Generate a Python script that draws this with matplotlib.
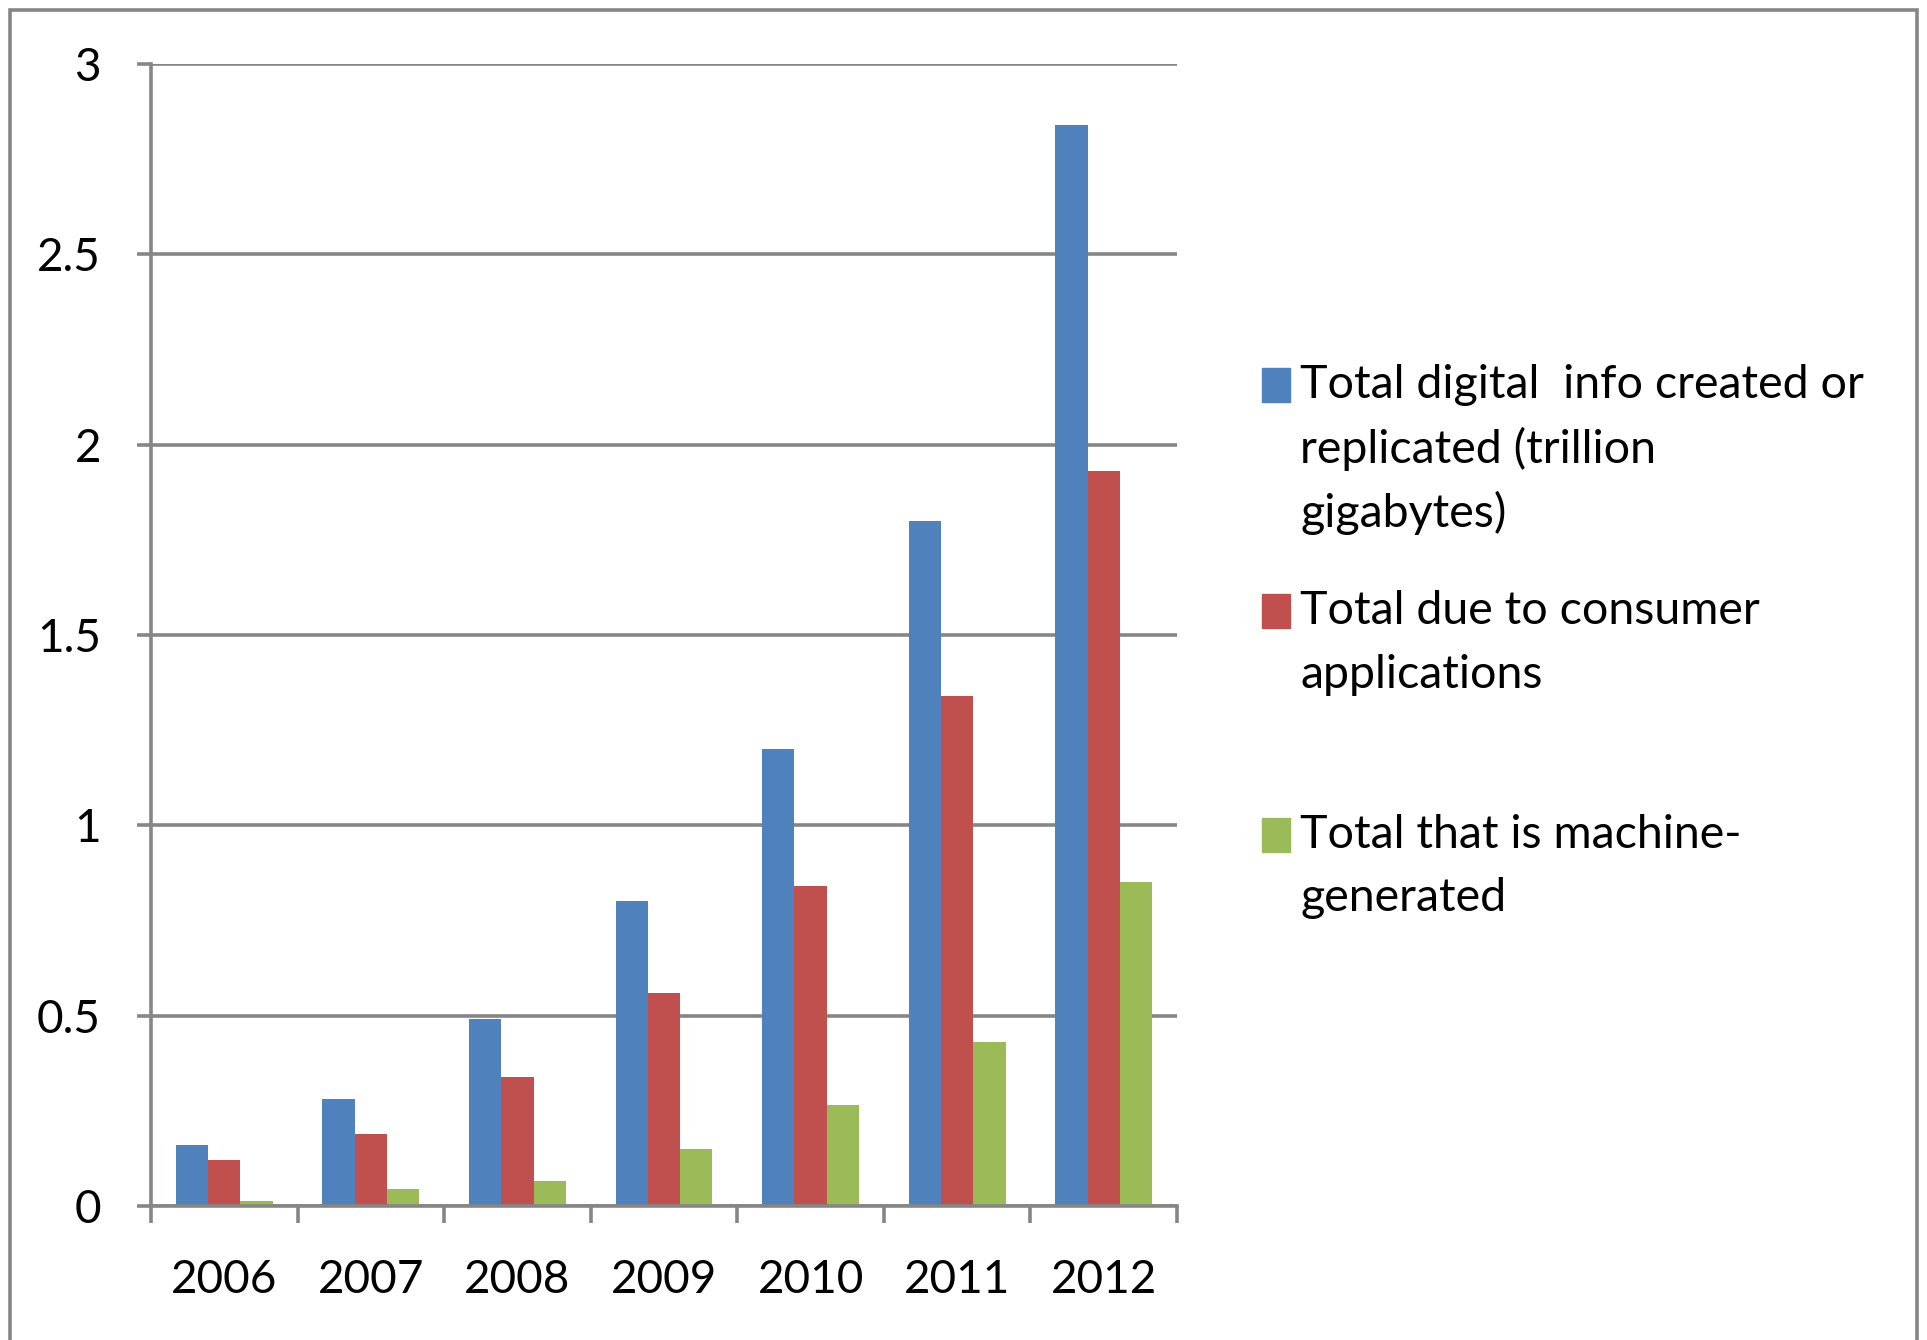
import matplotlib
matplotlib.use("Agg")
import matplotlib.pyplot as plt
import numpy as np
from matplotlib.patches import Rectangle

years = ["2006", "2007", "2008", "2009", "2010", "2011", "2012"]
total_digital = [0.16, 0.28, 0.49, 0.80, 1.20, 1.80, 2.84]
consumer = [0.12, 0.19, 0.34, 0.56, 0.84, 1.34, 1.93]
machine = [0.013, 0.045, 0.065, 0.15, 0.265, 0.43, 0.85]
series_labels = [
    ["Total digital  info created or", "replicated (trillion", "gigabytes)"],
    ["Total due to consumer", "applications"],
    ["Total that is machine-", "generated"],
]
colors = ["#4F81BD", "#C0504D", "#9BBB59"]
yticks = [0, 0.5, 1, 1.5, 2, 2.5, 3]
ytick_labels = ["0", "0.5", "1", "1.5", "2", "2.5", "3"]

plt.rcParams['font.family'] = ['Lato', 'DejaVu Sans']
W, H = 1927, 1340
fig = plt.figure(figsize=(W / 100, H / 100), dpi=100)
ax = fig.add_axes([151 / W, 1 - 1206 / H, (1177 - 151) / W, (1206 - 64) / H])

grid_c = "#868686"
lw = 2.6
x = np.arange(len(years))
bw = 0.22
for i, (vals, c) in enumerate(zip([total_digital, consumer, machine], colors)):
    ax.bar(x + (i - 1) * bw, vals, width=bw, color=c, zorder=3)

ax.set_xlim(-0.5, len(years) - 0.5)
ax.set_ylim(0, 3)
ax.set_yticks(yticks)
ax.set_yticklabels(ytick_labels)
ax.yaxis.grid(True, color=grid_c, linewidth=lw, zorder=1)
ax.set_axisbelow(True)
for s in ["top", "right"]:
    ax.spines[s].set_visible(False)
for s in ["left", "bottom"]:
    ax.spines[s].set_color(grid_c)
    ax.spines[s].set_linewidth(lw)
    ax.spines[s].set_zorder(4)

ax.set_xticks(x)
ax.set_xticklabels(years)
ax.set_xticks(np.arange(len(years) + 1) - 0.5, minor=True)
ax.tick_params(axis="x", which="major", length=0, pad=38, labelsize=33, labelcolor="black")
ax.tick_params(axis="x", which="minor", length=12, width=lw, color=grid_c)
ax.tick_params(axis="y", which="major", length=10, width=lw, color=grid_c, pad=26,
               labelsize=33, labelcolor="black")

# legend drawn as text lines with colored squares
line_ys = [[385, 449, 513], [611, 675], [835, 898]]
for lines, ys, c in zip(series_labels, line_ys, colors):
    fig.patches.append(Rectangle((1262 / W, 1 - (ys[0] + 17) / H), 28 / W, 34 / H,
                                 transform=fig.transFigure, color=c))
    for t, yy in zip(lines, ys):
        fig.text(1300 / W, 1 - yy / H, t, fontsize=33.5, va="center", ha="left", color="black")

# outer border
fig.patches.append(Rectangle((10 / W, -0.01), (1917 - 10) / W, 1 - 10 / H + 0.01,
                             transform=fig.transFigure, fill=False, edgecolor=grid_c, linewidth=lw))

fig.savefig("out.png", dpi=100, facecolor="white")
